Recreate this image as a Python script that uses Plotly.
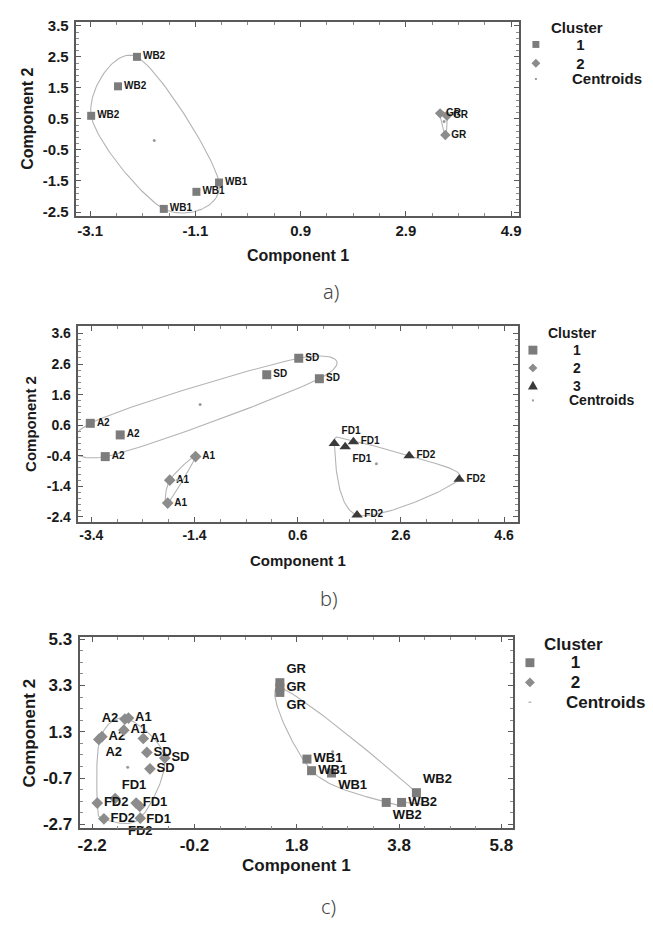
import numpy as np
import plotly.graph_objects as go

# ---------------- data ----------------
# Panel a)
a_wb2_x = [-2.21, -2.57, -3.08]; a_wb2_y = [2.50, 1.55, 0.60]
a_wb1_x = [-0.65, -1.08, -1.70]; a_wb1_y = [-1.55, -1.85, -2.40]
a_gr_x = [3.55, 3.68, 3.65]; a_gr_y = [0.68, 0.60, -0.02]
a_xticks = [-3.1, -1.1, 0.9, 2.9, 4.9]
a_yticks = [-2.5, -1.5, -0.5, 0.5, 1.5, 2.5, 3.5]

# Panel b)
b_a2_x = [-3.42, -2.84, -3.13]; b_a2_y = [0.66, 0.28, -0.43]
b_sd_x = [0.62, 0.00, 1.02]; b_sd_y = [2.79, 2.25, 2.12]
b_a1_x = [-1.38, -1.88, -1.92]; b_a1_y = [-0.43, -1.20, -1.95]
b_fd1_x = [1.31, 1.52, 1.68]; b_fd1_y = [0.00, -0.11, 0.06]
b_fd2_x = [2.76, 3.73, 1.75]; b_fd2_y = [-0.40, -1.17, -2.34]
b_xticks = [-3.4, -1.4, 0.6, 2.6, 4.6]
b_yticks = [-2.4, -1.4, -0.4, 0.6, 1.6, 2.6, 3.6]

# Panel c)
c_gr_x = [1.47, 1.47, 1.47]; c_gr_y = [3.42, 3.20, 3.00]
c_wb1_x = [2.00, 2.09, 2.48]; c_wb1_y = [0.12, -0.38, -0.48]
c_wb2_x = [4.14, 3.85, 3.55]; c_wb2_y = [-1.33, -1.75, -1.75]
c_a2_x = [-2.07, -2.01, -1.56]; c_a2_y = [0.97, 1.09, 1.85]
c_a1_x = [-1.49, -1.58, -1.20]; c_a1_y = [1.89, 1.37, 1.01]
c_sd_x = [-1.13, -0.78, -1.07]; c_sd_y = [0.41, 0.17, -0.30]
c_fd1_x = [-1.75, -1.34, -1.27]; c_fd1_y = [-1.58, -1.78, -1.92]
c_fd2_x = [-2.10, -1.97, -1.26]; c_fd2_y = [-1.78, -2.46, -2.43]
c_xticks = [-2.2, -0.2, 1.8, 3.8, 5.8]
c_yticks = [-2.7, -0.7, 1.3, 3.3, 5.3]

cluster_names = ["1", "2", "3"]
legend_title = "Cluster"
centroid_name = "Centroids"
captions = ["a)", "b)", "c)"]
x_title = "Component 1"
y_title = "Component 2"

# ---------------- helpers ----------------
W, H = 653, 930
def fx(px): return px / W
def fy(py): return 1 - py / H

def convex_hull(pts):
    pts = sorted(set(pts))
    if len(pts) < 3:
        return pts
    def cross(o, a, b):
        return (a[0]-o[0])*(b[1]-o[1]) - (a[1]-o[1])*(b[0]-o[0])
    lower, upper = [], []
    for p in pts:
        while len(lower) >= 2 and cross(lower[-2], lower[-1], p) <= 0:
            lower.pop()
        lower.append(p)
    for p in reversed(pts):
        while len(upper) >= 2 and cross(upper[-2], upper[-1], p) <= 0:
            upper.pop()
        upper.append(p)
    return lower[:-1] + upper[:-1]

def closed_spline(xs, ys, sx, sy, n=40, merge_px=12):
    """Closed Catmull-Rom curve through the convex hull of a cluster.
    sx, sy: pixels per data unit, used to merge hull vertices that nearly coincide."""
    hull = [np.array(p) for p in convex_hull(list(zip(xs, ys)))]
    changed = True
    while changed and len(hull) > 3:
        changed = False
        for i in range(len(hull)):
            a, b = hull[i], hull[(i + 1) % len(hull)]
            if np.hypot((a[0]-b[0])*sx, (a[1]-b[1])*sy) < merge_px:
                hull[i] = (a + b) / 2
                del hull[(i + 1) % len(hull)]
                changed = True
                break
    hull = np.array(hull)
    m = len(hull)
    out = []
    for i in range(m):
        p0, p1, p2, p3 = hull[(i-1) % m], hull[i], hull[(i+1) % m], hull[(i+2) % m]
        for t in np.linspace(0, 1, n, endpoint=False):
            t2, t3 = t*t, t*t*t
            pt = 0.5*((2*p1) + (-p0+p2)*t + (2*p0-5*p1+4*p2-p3)*t2 + (-p0+3*p1-3*p2+p3)*t3)
            out.append(pt)
    out.append(out[0])
    out = np.array(out)
    return out[:, 0], out[:, 1]

FONT = "Liberation Sans, Arial, sans-serif"
MARK = {1: dict(symbol="square", color="#7c7c7c"),
        2: dict(symbol="diamond", color="#8c8c8c"),
        3: dict(symbol="triangle-up", color="#3a3a3a")}

panels = [
    dict(clusters={1: [("WB2", a_wb2_x, a_wb2_y, ["middle right"]*3),
                       ("WB1", a_wb1_x, a_wb1_y, ["middle right"]*3)],
                   2: [("GR", a_gr_x, a_gr_y, ["middle right"]*3)]},
         xticks=a_xticks, yticks=a_yticks, xr=[-3.36, 5.05], yr=[-2.63, 3.63],
         box=(74, 520, 15, 212), fs=15, lfs=10, msize=8, ymin=0.2, xmin=0.5,
         xt_y=252, yt_x=25, cap=(331, 289),
         leg=dict(title=(550, 21), symx=537, textx=571, ys=[38, 57, 73], sz=[7, 9, 10])),
    dict(clusters={1: [("A2", b_a2_x, b_a2_y, ["middle right"]*3),
                       ("SD", b_sd_x, b_sd_y, ["middle right"]*3)],
                   2: [("A1", b_a1_x, b_a1_y, ["middle right"]*3)],
                   3: [("FD1", b_fd1_x, b_fd1_y, ["top right", "bottom right", "middle right"]),
                       ("FD2", b_fd2_x, b_fd2_y, ["middle right"]*3)]},
         xticks=b_xticks, yticks=b_yticks, xr=[-3.65, 4.87], yr=[-2.56, 3.83],
         box=(76, 519, 324, 522), fs=14, lfs=10, msize=9, ymin=0.2, xmin=0.5,
         xt_y=561, yt_x=27, cap=(329, 600),
         leg=dict(title=(547, 331), symx=534, textx=568, ys=[348, 366, 384, 399], sz=[9, 9, 10])),
    dict(clusters={1: [("GR", c_gr_x, c_gr_y, ["top right", "middle right", "bottom right"]),
                       ("WB1", c_wb1_x, c_wb1_y, ["middle right", "middle right", "bottom right"]),
                       ("WB2", c_wb2_x, c_wb2_y, ["top right", "middle right", "bottom right"])],
                   2: [("A2", c_a2_x, c_a2_y, ["bottom right", "middle right", "middle left"]),
                       ("A1", c_a1_x, c_a1_y, ["middle right"]*3),
                       ("SD", c_sd_x, c_sd_y, ["middle right"]*3),
                       ("FD1", c_fd1_x, c_fd1_y, ["top right", "middle right", "bottom right"]),
                       ("FD2", c_fd2_x, c_fd2_y, ["middle right", "middle right", "bottom center"])]},
         xticks=c_xticks, yticks=c_yticks, xr=[-2.43, 6.03], yr=[-2.87, 5.39],
         box=(78, 514, 639, 833), fs=17, lfs=13, msize=9, ymin=0.5, xmin=0.5,
         xt_y=871, yt_x=27, cap=(328, 912),
         leg=dict(title=(543, 647), symx=531, textx=565, ys=[665, 685, 705], sz=[9, 10, 10])),
]

fig = go.Figure()
annotations = []
shapes = []
layout_axes = {}

for i, P in enumerate(panels):
    k = "" if i == 0 else str(i + 1)
    xa, ya = "x" + k, "y" + k
    x0, x1, y0, y1 = P["box"]
    pxu = (x1 - x0) / (P["xr"][1] - P["xr"][0])
    pyu = (y1 - y0) / (P["yr"][1] - P["yr"][0])
    # cluster outlines
    for c, groups in P["clusters"].items():
        allx = sum([list(g[1]) for g in groups], [])
        ally = sum([list(g[2]) for g in groups], [])
        sx, sy = closed_spline(allx, ally, pxu, pyu)
        fig.add_trace(go.Scatter(x=sx, y=sy, mode="lines", xaxis=xa, yaxis=ya,
                                 line=dict(color="#b4b4b4", width=1.1), showlegend=False,
                                 hoverinfo="skip"))
    # points
    for c, groups in P["clusters"].items():
        for name, gx, gy, pos in groups:
            fig.add_trace(go.Scatter(
                x=gx, y=gy, mode="markers+text", xaxis=xa, yaxis=ya,
                text=[name]*len(gx), textposition=pos,
                textfont=dict(family=FONT, size=P["lfs"], color="#151515", weight="bold"),
                marker=dict(symbol=MARK[c]["symbol"], color=MARK[c]["color"],
                            size=P["msize"] + (1 if c == 3 else 0), line=dict(width=0)),
                showlegend=False, cliponaxis=False))
    # centroids
    cx, cy = [], []
    for c, groups in P["clusters"].items():
        allx = sum([list(g[1]) for g in groups], [])
        ally = sum([list(g[2]) for g in groups], [])
        cx.append(float(np.mean(allx))); cy.append(float(np.mean(ally)))
    fig.add_trace(go.Scatter(x=cx, y=cy, mode="markers", xaxis=xa, yaxis=ya,
                             marker=dict(color="#9a9a9a", size=3), showlegend=False))

    tickfont = dict(family=FONT, size=P["fs"], color="#1a1a1a", weight="bold")
    common = dict(showgrid=False, zeroline=False, showline=True, linecolor="#5a5a5a",
                  linewidth=1.5, mirror="ticks", ticks="inside", ticklen=5,
                  tickcolor="#5a5a5a", tickwidth=1, tickfont=tickfont)
    layout_axes["xaxis" + k] = dict(
        domain=[fx(x0), fx(x1)], range=P["xr"], anchor=ya,
        tickvals=P["xticks"], ticktext=[f"{v:.1f}" for v in P["xticks"]],
        ticklabelstandoff=0,
        minor=dict(ticks="inside", ticklen=3, tick0=P["xticks"][0], dtick=P["xmin"],
                   tickcolor="#8a8a8a"), **common)
    layout_axes["yaxis" + k] = dict(
        domain=[fy(y1), fy(y0)], range=P["yr"], anchor=xa,
        tickvals=P["yticks"], ticktext=[f"{v:.1f}" for v in P["yticks"]],
        ticklabelstandoff=3,
        minor=dict(ticks="inside", ticklen=3, tick0=P["yticks"][0], dtick=P["ymin"],
                   tickcolor="#8a8a8a"), **common)

    # axis titles
    tf = dict(family=FONT, size=P["fs"] + (1 if i < 2 else 0), color="#1a1a1a", weight="bold")
    annotations.append(dict(text=x_title, xref="paper", yref="paper", x=fx((x0 + x1) / 2),
                            y=fy(P["xt_y"]), xanchor="center", yanchor="middle",
                            showarrow=False, font=tf))
    annotations.append(dict(text=y_title, xref="paper", yref="paper", x=fx(P["yt_x"]),
                            y=fy((y0 + y1) / 2), xanchor="center", yanchor="middle",
                            textangle=-90, showarrow=False, font=tf))
    # caption
    annotations.append(dict(text=captions[i], xref="paper", yref="paper", x=fx(P["cap"][0]),
                            y=fy(P["cap"][1]), xanchor="center", yanchor="middle",
                            showarrow=False,
                            font=dict(family="Noto Sans, DejaVu Sans", size=20, color="#444",
                                      weight=300)))
    # legend (drawn manually)
    L = P["leg"]
    lf = dict(family=FONT, size=P["fs"] if i < 2 else 17, color="#1a1a1a", weight="bold")
    annotations.append(dict(text=legend_title, xref="paper", yref="paper", x=fx(L["title"][0]),
                            y=fy(L["title"][1]), xanchor="left", yanchor="middle",
                            showarrow=False, font=lf))
    ncl = len(P["clusters"])
    labels = cluster_names[:ncl] + [centroid_name]
    for j, lab in enumerate(labels):
        yy = L["ys"][j]
        annotations.append(dict(text=lab if lab == centroid_name else "\u00a0" + lab,
                                xref="paper", yref="paper", x=fx(L["textx"]), y=fy(yy),
                                xanchor="left", yanchor="middle", showarrow=False, font=lf))
        sx = L["symx"]
        if lab == centroid_name:
            if i == 2:
                shapes.append(dict(type="line", xref="paper", yref="paper",
                                   x0=fx(sx - 1.5), x1=fx(sx + 1.5), y0=fy(yy), y1=fy(yy),
                                   line=dict(color="#999", width=1)))
            else:
                shapes.append(dict(type="rect", xref="paper", yref="paper",
                                   x0=fx(sx - 1), x1=fx(sx + 1), y0=fy(yy - 1), y1=fy(yy + 1),
                                   fillcolor="#999", line=dict(width=0)))
            continue
        c = j + 1
        s = L["sz"][j] / 2
        col = MARK[c]["color"]
        if c == 1:
            shapes.append(dict(type="rect", xref="paper", yref="paper",
                               x0=fx(sx - s), x1=fx(sx + s), y0=fy(yy - s), y1=fy(yy + s),
                               fillcolor=col, line=dict(width=0)))
        elif c == 2:
            path = (f"M {fx(sx)},{fy(yy - s)} L {fx(sx + s)},{fy(yy)} "
                    f"L {fx(sx)},{fy(yy + s)} L {fx(sx - s)},{fy(yy)} Z")
            shapes.append(dict(type="path", xref="paper", yref="paper", path=path,
                               fillcolor=col, line=dict(width=0)))
        else:
            path = (f"M {fx(sx)},{fy(yy - s)} L {fx(sx + s)},{fy(yy + s * 0.8)} "
                    f"L {fx(sx - s)},{fy(yy + s * 0.8)} Z")
            shapes.append(dict(type="path", xref="paper", yref="paper", path=path,
                               fillcolor=col, line=dict(width=0)))

fig.update_layout(width=W, height=H, margin=dict(l=0, r=0, t=0, b=0),
                  paper_bgcolor="white", plot_bgcolor="white", showlegend=False,
                  hovermode=False,
                  annotations=annotations, shapes=shapes, **layout_axes)
fig.write_html("out.html", config={"displayModeBar": False},
               post_script="document.body.style.margin='0px';"
                           "document.body.style.overflow='hidden';")
